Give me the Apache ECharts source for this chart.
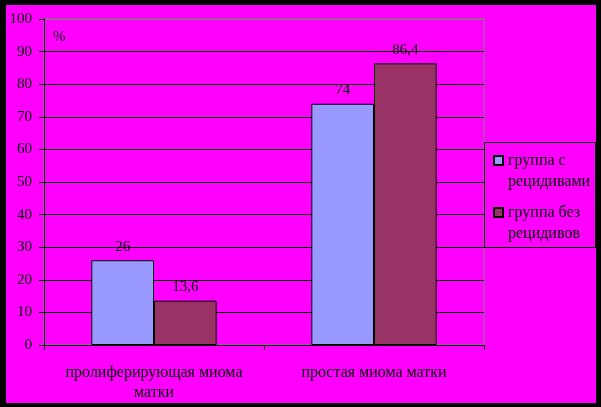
<!DOCTYPE html>
<html><head><meta charset="utf-8">
<script src="https://cdn.jsdelivr.net/npm/echarts@6/dist/echarts.min.js"></script>
<style>
html,body{margin:0;padding:0;background:#000;width:601px;height:407px;overflow:hidden}
#c{position:absolute;left:6px;top:5px;width:590px;height:398px}
</style></head>
<body><div id="c"></div>
<script>
var categories = ['пролиферирующая миома\nматки', 'простая миома матки'];
var seriesNames = ['группа с\nрецидивами', 'группа без\nрецидивов'];
var withRelapse = [26, 74];
var withoutRelapse = [13.6, 86.4];
var yTicks = [0, 10, 20, 30, 40, 50, 60, 70, 80, 90, 100];
var unitLabel = '%';

var serif = 'Liberation Serif, Times New Roman, serif';
var chart = echarts.init(document.getElementById('c'));
var splitColors = yTicks.map(function (v, i) { return i === yTicks.length - 1 ? '#808080' : '#000'; });
function lbl(p) { return String(p.value).replace('.', ','); }
chart.setOption({
  backgroundColor: '#FF00FF',
  animation: false,
  grid: { left: 38, top: 14, right: 112, bottom: 58, show: true, borderColor: '#808080', borderWidth: 1 },
  graphic: [
    { type: 'text', left: 47, top: 25, style: { text: unitLabel, font: '15px ' + serif, fill: '#000' } },
    { type: 'rect', shape: { x: 478.5, y: 137.5, width: 111, height: 105 }, style: { fill: 'none', stroke: '#000', lineWidth: 1 }, z: 10 }
  ],
  legend: {
    orient: 'vertical', left: 487, top: 124, padding: 0, itemGap: -11,
    itemWidth: 9, itemHeight: 9, icon: 'rect',
    formatter: function (n) { return '\n' + n; },
    textStyle: { fontFamily: serif, fontSize: 16, color: '#000', lineHeight: 21 },
    data: seriesNames
  },
  xAxis: {
    type: 'category', data: categories,
    axisLine: { lineStyle: { color: '#000', width: 1 } },
    axisTick: { show: true, length: 5, lineStyle: { color: '#000' } },
    axisLabel: { interval: 0, margin: 18, fontFamily: serif, fontSize: 16, color: '#000', lineHeight: 20 }
  },
  yAxis: {
    type: 'value', min: 0, max: 100, interval: 10,
    axisLine: { show: true, lineStyle: { color: '#000', width: 1 } },
    axisTick: { show: true, length: 5, lineStyle: { color: '#000' } },
    axisLabel: { margin: 12, fontFamily: serif, fontSize: 15, color: '#000' },
    splitLine: { show: true, lineStyle: { color: splitColors, width: 1 } }
  },
  series: [
    { name: seriesNames[0], type: 'bar', data: withRelapse, barGap: '0%', barCategoryGap: '43%',
      itemStyle: { color: '#9999FF', borderColor: '#000', borderWidth: 1 },
      label: { show: true, position: 'top', distance: 6, formatter: lbl, fontFamily: serif, fontSize: 15, color: '#000' } },
    { name: seriesNames[1], type: 'bar', data: withoutRelapse,
      itemStyle: { color: '#993366', borderColor: '#000', borderWidth: 1 },
      label: { show: true, position: 'top', distance: 6, formatter: lbl, fontFamily: serif, fontSize: 15, color: '#000' } }
  ]
});
</script></body></html>
